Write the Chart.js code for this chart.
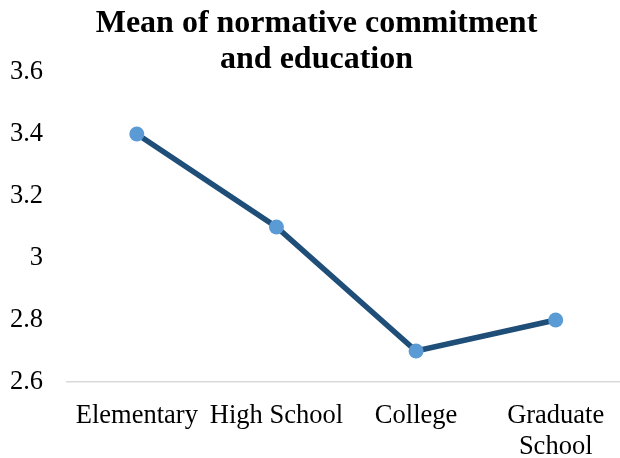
<!DOCTYPE html>
<html>
<head>
<meta charset="utf-8">
<script src="https://cdn.jsdelivr.net/npm/chart.js@4"></script>
<style>
  body { margin: 0; background: #fff; overflow: hidden; }
  #wrap { width: 633px; height: 458px; }
</style>
</head>
<body>
<div id="wrap"><canvas id="chart"></canvas></div>
<script>
// Education levels and mean normative commitment
const educationLevels = ['Elementary', 'High School', 'College', ['Graduate', 'School']];
const meanCommitment = [3.4, 3.1, 2.7, 2.8];
const yTickValues = [2.6, 2.8, 3, 3.2, 3.4, 3.6];
const yTickLabels = ['2.6', '2.8', '3', '3.2', '3.4', '3.6'];

const serif = '"Liberation Serif", "Times New Roman", serif';

new Chart(document.getElementById('chart'), {
  type: 'line',
  data: {
    labels: educationLevels,
    datasets: [{
      data: meanCommitment,
      borderColor: '#1f4e79',
      borderWidth: 5.5,
      pointRadius: 7.5,
      pointBackgroundColor: '#5b9bd5',
      pointBorderWidth: 0,
      tension: 0,
    }]
  },
  options: {
    responsive: true,
    maintainAspectRatio: false,
    animation: false,
    layout: { padding: 0 },
    plugins: {
      legend: { display: false },
      tooltip: { enabled: false },
      title: {
        display: true,
        text: ['Mean of normative commitment', 'and education'],
        color: '#000',
        font: { family: serif, size: 32, weight: 'bold', lineHeight: 1.125 },
        padding: { top: 6, bottom: -6 },
      },
    },
    scales: {
      x: {
        offset: true,
        grid: { display: false, drawTicks: false },
        border: { display: true, color: '#d9d9d9', width: 1.5 },
        ticks: {
          color: '#000',
          font: { family: serif, size: 26.5, lineHeight: 1.15 },
          padding: 19,
          maxRotation: 0,
          autoSkip: false,
        },
        afterFit: (scale) => { scale.height = 76; },
      },
      y: {
        min: 2.6,
        max: 3.6,
        grid: { display: false, drawTicks: false },
        border: { display: false },
        afterBuildTicks: (scale) => {
          scale.ticks = yTickValues.map(v => ({ value: v }));
        },
        ticks: {
          color: '#000',
          font: { family: serif, size: 26.5 },
          padding: 24,
          callback: (value) => {
            const i = yTickValues.findIndex(v => Math.abs(v - value) < 1e-9);
            return i >= 0 ? yTickLabels[i] : '';
          },
        },
        afterFit: (scale) => { scale.width = 67; },
      }
    }
  }
});
</script>
</body>
</html>
